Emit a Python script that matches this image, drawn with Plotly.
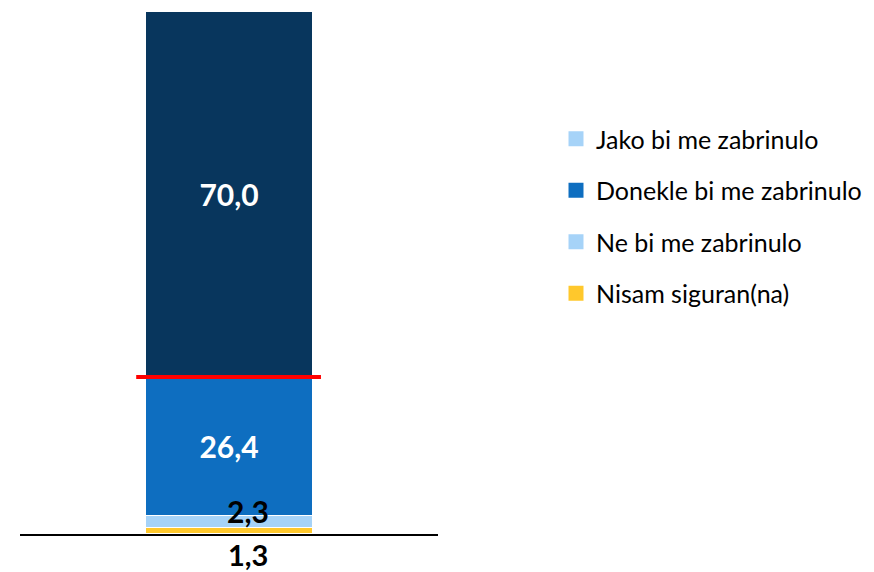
import plotly.graph_objects as go
import numpy as np

# Data (stack from bottom to top)
categories = [""]
series_names = ["Nisam siguran(na)", "Ne bi me zabrinulo", "Donekle bi me zabrinulo", "Jako bi me zabrinulo"]
series_values = [1.3, 2.3, 26.4, 70.0]
bar_colors = ["#FFC82C", "#A6D3F8", "#0E6EC0", "#08365D"]

# Legend (order and swatch colours as shown in the reference)
legend_names = ["Jako bi me zabrinulo", "Donekle bi me zabrinulo", "Ne bi me zabrinulo", "Nisam siguran(na)"]
legend_colors = ["#A6D3F8", "#0E6EC0", "#A6D3F8", "#FFC82C"]

FONT = "Lato"
W, H = 866, 564

def fmt(v):
    return f"{v:.1f}".replace(".", ",")

fig = go.Figure()
for i, (name, val, col) in enumerate(zip(series_names, series_values, bar_colors)):
    big = val >= 10
    fig.add_trace(go.Bar(
        x=categories, y=[val], name=name, showlegend=False,
        marker=dict(color=col, line=dict(color="white", width=1.2)),
        width=0.4,
        text=[fmt(val)] if big else None,
        textposition="inside" if big else "none",
        insidetextanchor="middle",
        textfont=dict(family=FONT, size=30, color="white", weight="bold"),
        hoverinfo="skip",
    ))

for i, (name, col) in enumerate(zip(legend_names, legend_colors)):
    fig.add_trace(go.Scatter(
        x=[None], y=[None], mode="markers", name=name, legendgroup=f"g{i}",
        marker=dict(symbol="square", size=15, color=col),
    ))

cum = np.cumsum(series_values)
# small segment labels
fig.add_annotation(x=0, y=cum[1], text=fmt(series_values[1]), showarrow=False,
                   xshift=19, yshift=4, yanchor="middle",
                   font=dict(family=FONT, size=30, color="black", weight="bold"))
fig.add_annotation(x=0, y=0, text=fmt(series_values[0]), showarrow=False,
                   xshift=19, yshift=-20, yanchor="middle",
                   font=dict(family=FONT, size=29, color="black", weight="bold"))

# red line at top of the three lower segments
fig.add_shape(type="line", x0=-0.222, x1=0.22, y0=cum[2], y1=cum[2],
              line=dict(color="#FF0000", width=4), layer="above")

fig.update_layout(
    barmode="stack",
    width=W, height=H,
    margin=dict(l=12, r=436, t=3, b=38, autoexpand=False),
    paper_bgcolor="white", plot_bgcolor="white",
    separators=",.",
    showlegend=True,
    legend=dict(xref="container", yref="container", x=548/W, y=1-108/H,
                xanchor="left", yanchor="top",
                font=dict(family=FONT, size=25, color="black"),
                tracegroupgap=16, bgcolor="rgba(0,0,0,0)", itemclick=False),
    xaxis=dict(range=[-0.5, 0.5], showticklabels=False, showgrid=False, zeroline=False,
               showline=True, linecolor="black", linewidth=1.5, ticks=""),
    yaxis=dict(range=[0, 100], visible=False, showgrid=False, zeroline=False),
)

fig.write_html("out.html")
